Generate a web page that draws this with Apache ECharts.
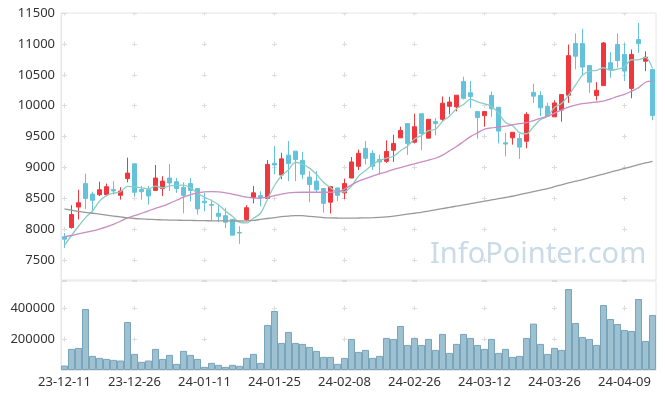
<!DOCTYPE html>
<html>
<head>
<meta charset="utf-8">
<script src="https://cdn.jsdelivr.net/npm/echarts@6/dist/echarts.min.js"></script>
<style>
  html, body { margin: 0; padding: 0; background: #fff; }
  #chart { width: 665px; height: 399px; }
</style>
</head>
<body>
<div id="chart"></div>
<script>
// trading days, 23-12-11 .. 24-04-16
const dates = [
  '23-12-11','23-12-12','23-12-13','23-12-14','23-12-15','23-12-18','23-12-19','23-12-20','23-12-21','23-12-22',
  '23-12-26','23-12-27','23-12-28','24-01-02','24-01-03','24-01-04','24-01-05','24-01-08','24-01-09','24-01-10',
  '24-01-11','24-01-12','24-01-15','24-01-16','24-01-17','24-01-18','24-01-19','24-01-22','24-01-23','24-01-24',
  '24-01-25','24-01-26','24-01-29','24-01-30','24-01-31','24-02-01','24-02-02','24-02-05','24-02-06','24-02-07',
  '24-02-08','24-02-13','24-02-14','24-02-15','24-02-16','24-02-19','24-02-20','24-02-21','24-02-22','24-02-23',
  '24-02-26','24-02-27','24-02-28','24-02-29','24-03-04','24-03-05','24-03-06','24-03-07','24-03-08','24-03-11',
  '24-03-12','24-03-13','24-03-14','24-03-15','24-03-18','24-03-19','24-03-20','24-03-21','24-03-22','24-03-25',
  '24-03-26','24-03-27','24-03-28','24-03-29','24-04-01','24-04-02','24-04-03','24-04-04','24-04-05','24-04-08',
  '24-04-09','24-04-11','24-04-12','24-04-15','24-04-16'
];

// [open, close, low, high]
const ohlc = [
  [7880,7840,7700,7940],[8030,8240,8010,8390],[8360,8430,8160,8640],[8740,8500,8330,8900],[8570,8470,8270,8610],
  [8560,8640,8540,8770],[8560,8690,8540,8740],[8645,8620,8560,8780],[8550,8620,8480,8680],[8820,8910,8760,9160],
  [9060,8600,8530,9060],[8645,8610,8480,8700],[8640,8540,8400,8700],[8630,8830,8620,9040],[8660,8780,8540,8860],
  [8830,8750,8620,9060],[8770,8660,8590,8830],[8680,8550,8260,8760],[8740,8630,8450,8830],[8660,8330,8240,8660],
  [8455,8430,8290,8590],[8400,8390,8130,8480],[8260,8210,8115,8410],[8220,8115,8020,8350],[8160,7905,7905,8160],
  [7950,7940,7765,8050],[8160,8350,8130,8390],[8515,8590,8420,8700],[8545,8515,8370,8615],[8500,9050,8500,9120],
  [9070,9040,8890,9350],[8880,9140,8810,9240],[9200,9065,8780,9430],[9265,9130,8780,9265],[9115,8890,8810,9250],
  [8845,8725,8440,8940],[8780,8640,8590,8940],[8660,8420,8270,8660],[8440,8690,8255,8690],[8670,8550,8455,8670],
  [8590,8740,8490,8820],[8830,9090,8830,9170],[9020,9230,8960,9290],[9310,9150,9050,9430],[9230,9020,8960,9280],
  [9130,9090,8880,9210],[9100,9260,9075,9440],[9280,9390,9090,9530],[9480,9600,9480,9660],[9710,9390,9205,9710],
  [9410,9660,9390,9870],[9870,9550,9280,9870],[9475,9780,9475,9780],[9745,9710,9520,9800],[9780,10040,9750,10150],
  [9990,10060,9860,10145],[9980,10170,9910,10170],[10390,10120,10100,10470],[10210,10150,9965,10400],[9905,9810,9465,9905],
  [9840,9905,9660,9905],[10165,9950,9820,10230],[9975,9590,9390,9975],[9400,9380,9180,9560],[9480,9570,9370,9570],
  [9470,9330,9140,9545],[9425,9860,9310,9895],[10215,10155,10045,10355],[10165,9965,9830,10235],[9990,9830,9830,10050],
  [9820,10045,9820,10090],[9930,10180,9740,10180],[10170,10810,10045,10990],[11005,10800,10590,11170],[11005,10625,10490,11245],
  [10650,10380,10210,10650],[10165,10250,10085,10380],[10325,11015,10325,11030],[10695,10585,10450,10865],[10990,10730,10615,11170],
  [10830,10560,10400,11015],[10280,10830,10120,10910],[11070,11005,10855,11340],[10720,10785,10560,10880],[10585,9840,9765,10585]
];

const ma5 = [
  7740,7900,8050,8190,8296,8456,8546,8584,8608,8696,8688,8672,8656,8698,8672,8702,8712,8714,8674,8584,
  8520,8466,8398,8295,8210,8112,8104,8180,8260,8489,8709,8867,8962,9085,9053,8990,8890,8761,8673,8605,
  8608,8698,8860,8952,9046,9116,9150,9182,9272,9346,9460,9518,9596,9618,9748,9828,9952,10020,10108,10062,
  10031,9987,9881,9727,9679,9564,9546,9659,9776,9828,9971,10035,10166,10333,10492,10559,10573,10614,10571,10592,
  10628,10744,10742,10782,10604
];

const ma20 = [
  7880,7900,7925,7950,7975,8005,8040,8080,8130,8185,8220,8260,8300,8340,8375,8420,8470,8520,8560,8590,
  8605,8610,8605,8590,8570,8545,8520,8505,8503,8520,8545,8570,8590,8598,8600,8600,8600,8600,8600,8605,
  8650,8720,8780,8820,8860,8900,8930,8970,9000,9030,9060,9090,9120,9150,9200,9270,9340,9420,9500,9560,
  9620,9640,9655,9670,9690,9710,9725,9760,9795,9830,9880,9930,9977,10010,10035,10047,10060,10075,10110,10150,
  10183,10235,10290,10380,10397
];

const ma120 = [
  8330,8310,8290,8275,8260,8245,8230,8215,8200,8185,8175,8168,8162,8157,8153,8150,8148,8146,8144,8142,
  8140,8138,8137,8136,8135,8135,8137,8145,8160,8175,8190,8205,8215,8222,8220,8210,8200,8190,8185,8183,
  8182,8182,8183,8185,8188,8192,8200,8212,8228,8245,8260,8275,8295,8315,8335,8355,8375,8395,8415,8435,
  8455,8475,8495,8515,8535,8560,8585,8610,8635,8660,8690,8720,8750,8778,8805,8835,8865,8895,8925,8955,
  8985,9015,9045,9075,9100
];

const volumes = [
  29000,136600,143000,394700,91400,78500,72000,65600,61300,310800,
  104300,52700,61300,136600,72000,97900,39800,123700,97900,72000,
  20400,46200,33300,20400,33300,26900,78500,104300,46200,291500,
  381800,175300,246300,175300,168900,149500,123700,85000,85000,39800,
  78500,201100,117200,130100,78500,91400,207600,201100,285000,162400,
  207600,162400,201100,130100,233400,110800,168900,233400,207600,162400,
  136600,201100,110800,136600,85000,91400,207600,300100,168900,104300,
  143000,130100,523800,304400,214000,201100,162400,420500,330200,297900,
  259200,252700,459200,188200,356000
];

const priceMin = 7180, priceMax = 11500;
const volMax = 576000;

const chart = echarts.init(document.getElementById('chart'), null, { renderer: 'canvas' });

const gridColor = '#e6e6e6';
const plusColor = '#dcdcdc';
const font = 'Noto Sans';

chart.setOption({
  animation: false,
  backgroundColor: '#fff',
  textStyle: { fontFamily: font },
  grid: [
    { left: 61, width: 595, top: 13, height: 267, show: true, borderColor: gridColor, borderWidth: 1 },
    { left: 61, width: 595, top: 281, height: 89, show: true, borderColor: gridColor, borderWidth: 1 }
  ],
  xAxis: [
    {
      type: 'category', gridIndex: 0, data: dates, boundaryGap: true,
      axisLine: { show: false }, axisTick: { show: false }, axisLabel: { show: false },
      splitLine: {
        show: true, interval: 9, alignWithLabel: true,
        lineStyle: { color: plusColor, width: 1, type: [5, 25.903], dashOffset: 2.5 }
      }
    },
    {
      type: 'category', gridIndex: 1, data: dates, boundaryGap: true,
      axisLine: { show: true, lineStyle: { color: gridColor } },
      axisTick: { show: false },
      axisLabel: { interval: 9, fontSize: 13, color: '#333', margin: 6, fontFamily: font },
      splitLine: {
        show: true, interval: 9, alignWithLabel: true,
        lineStyle: { color: plusColor, width: 1, type: [5, 25.9], dashOffset: 6.2 }
      }
    }
  ],
  yAxis: [
    {
      type: 'value', gridIndex: 0, min: priceMin, max: priceMax, splitNumber: 8, scale: true,
      axisLine: { show: true, lineStyle: { color: gridColor } }, axisTick: { show: false },
      axisLabel: {
        fontSize: 13, color: '#333', margin: 6, fontFamily: font,
        showMinLabel: false,
        formatter: v => (v % 500 === 0 ? String(v) : '')
      },
      splitLine: { show: true, lineStyle: { color: plusColor, width: 1, type: [5, 65], dashOffset: 69 } }
    },
    {
      type: 'value', gridIndex: 1, min: 0, max: volMax, splitNumber: 3,
      axisLine: { show: true, lineStyle: { color: gridColor } }, axisTick: { show: false },
      axisLabel: {
        fontSize: 13, color: '#333', margin: 6, fontFamily: font,
        showMinLabel: false, showMaxLabel: false,
        formatter: v => (v > 0 && v % 200000 === 0 ? String(v) : '')
      },
      splitLine: { show: true, lineStyle: { color: plusColor, width: 1, type: [5, 65], dashOffset: 69 } }
    }
  ],
  graphic: [{
    type: 'text', left: 430, top: 240, z: 0, silent: true,
    style: { text: 'InfoPointer.com', fontSize: 29, fontFamily: font, fill: '#c8dbe6' }
  }],
  series: [
    {
      name: 'price', type: 'candlestick', xAxisIndex: 0, yAxisIndex: 0, data: ohlc, barWidth: 5,
      itemStyle: { color: '#ee383e', color0: '#64c2da', borderColor: '#ee383e', borderColor0: '#64c2da', borderWidth: 1 }
    },
    {
      name: 'MA5', type: 'line', xAxisIndex: 0, yAxisIndex: 0, data: ma5, symbol: 'none', smooth: 0.3,
      lineStyle: { color: '#8ccdc3', width: 1.3 }, z: 3
    },
    {
      name: 'MA20', type: 'line', xAxisIndex: 0, yAxisIndex: 0, data: ma20, symbol: 'none', smooth: 0.3,
      lineStyle: { color: '#c98cc4', width: 1.3 }, z: 3
    },
    {
      name: 'MA120', type: 'line', xAxisIndex: 0, yAxisIndex: 0, data: ma120, symbol: 'none', smooth: 0.3,
      lineStyle: { color: '#999999', width: 1.3 }, z: 3
    },
    {
      name: 'volume', type: 'bar', xAxisIndex: 1, yAxisIndex: 1, data: volumes, barCategoryGap: '0%',
      itemStyle: { color: '#9dc1d1', borderColor: '#79a4b9', borderWidth: 1 }
    }
  ]
});

window.addEventListener('resize', () => chart.resize());
</script>
</body>
</html>
